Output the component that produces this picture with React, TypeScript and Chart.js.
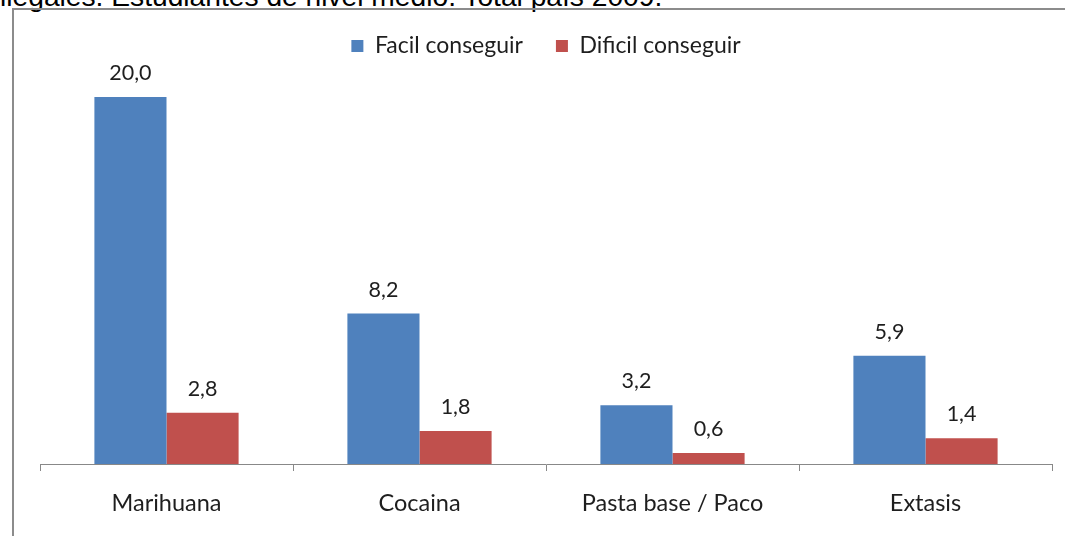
import React, { useEffect, useRef } from "react";
import { Chart, registerables } from "chart.js";

Chart.register(...registerables);

const titleText = "ilegales. Estudiantes de nivel medio. Total país 2009.";
const categories = ["Marihuana", "Cocaina", "Pasta base / Paco", "Extasis"];
const seriesNames = ["Facil conseguir", "Dificil conseguir"];
const facilValues = [20.0, 8.2, 3.2, 5.9];
const dificilValues = [2.8, 1.8, 0.6, 1.4];
const seriesColors = ["#4F81BD", "#C0504D"];

const FONT = "Lato, 'Open Sans', sans-serif";

const valueLabels = {
  id: "valueLabels",
  afterDatasetsDraw(chart: any) {
    const ctx = chart.ctx;
    ctx.save();
    ctx.font = `21.5px ${FONT}`;
    ctx.fillStyle = "#1e1e1e";
    ctx.textAlign = "center";
    ctx.textBaseline = "alphabetic";
    chart.data.datasets.forEach((ds: any, i: number) => {
      const meta = chart.getDatasetMeta(i);
      meta.data.forEach((bar: any, j: number) => {
        const v = ds.data[j] as number;
        ctx.fillText(v.toFixed(1).replace(".", ","), bar.x, bar.y - 17);
      });
    });
    ctx.restore();
  },
};

export default function App() {
  const canvasRef = useRef<HTMLCanvasElement | null>(null);

  useEffect(() => {
    if (!canvasRef.current) return;
    const chart = new Chart(canvasRef.current, {
      type: "bar",
      data: {
        labels: categories,
        datasets: [
          {
            label: seriesNames[0],
            data: facilValues,
            backgroundColor: seriesColors[0],
            borderWidth: 0,
            categoryPercentage: 0.57,
            barPercentage: 1,
          },
          {
            label: seriesNames[1],
            data: dificilValues,
            backgroundColor: seriesColors[1],
            borderWidth: 0,
            categoryPercentage: 0.57,
            barPercentage: 1,
          },
        ],
      },
      options: {
        animation: false,
        responsive: false,
        maintainAspectRatio: false,
        layout: { padding: { top: 1.5, left: 40, right: 13, bottom: 0.8 } },
        plugins: {
          legend: {
            position: "top",
            labels: {
              boxWidth: 12,
              boxHeight: 12,
              padding: 33,
              color: "#1e1e1e",
              font: { family: FONT, size: 23 },
            },
          },
          tooltip: { enabled: false },
          title: { display: false },
        },
        scales: {
          x: {
            grid: {
              display: true,
              drawOnChartArea: false,
              drawTicks: true,
              tickLength: 7,
              color: "#888888",
              offset: true,
            },
            border: { display: true, color: "#888888", width: 1 },
            ticks: {
              color: "#1e1e1e",
              padding: 18,
              font: { family: FONT, size: 23.5 },
              maxRotation: 0,
            },
          },
          y: {
            display: false,
            min: 0,
            max: 21.61,
          },
        },
      },
      plugins: [valueLabels],
    });
    return () => chart.destroy();
  }, []);

  return (
    <div
      style={{
        position: "fixed",
        left: 0,
        top: 0,
        width: 1065,
        height: 536,
        overflow: "hidden",
        background: "#ffffff",
      }}
    >
      <div
        style={{
          position: "absolute",
          left: 0,
          top: -18,
          fontFamily: "Arial, 'Liberation Sans', sans-serif",
          fontSize: 28.2,
          lineHeight: "28.2px",
          color: "#000000",
          whiteSpace: "nowrap",
        }}
      >
        {titleText}
      </div>
      <div
        style={{
          position: "absolute",
          left: 12,
          top: 8,
          width: 1100,
          height: 600,
          borderTop: "2px solid #8c8c8c",
          borderLeft: "2px solid #8c8c8c",
        }}
      />
      <canvas
        ref={canvasRef}
        width={1065}
        height={536}
        style={{ position: "absolute", left: 0, top: 0, width: 1065, height: 536 }}
      />
    </div>
  );
}
